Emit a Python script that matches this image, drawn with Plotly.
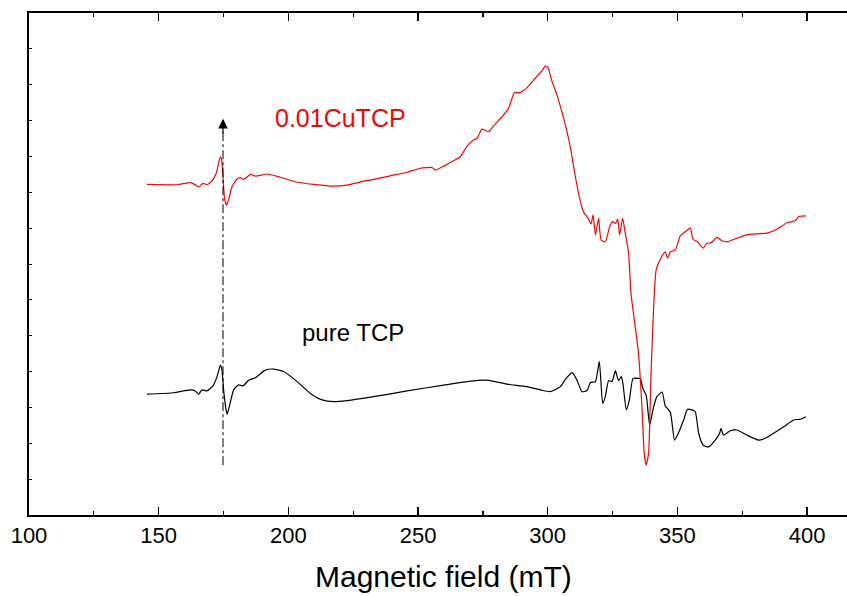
import plotly.graph_objects as go

# ---- data (field in mT, intensity in arbitrary units) ----
red_field = [145.5, 157.1, 162.2, 163.9, 165.4, 167.1, 168.7, 170.6, 172.2, 173.1, 173.8, 174.3,
             174.8, 175.4, 176.2, 177.1, 178.3, 180.2, 181.5, 182.8, 185.4, 187.3, 191.8, 196.9,
             203.4, 209.8, 216.9, 222.6, 227.8, 232.9, 239.3, 245.8, 250.9, 255.4, 256.7, 259.9,
             263.7, 266.3, 268.9, 271.4, 272.7, 274.7, 277.2, 279.1, 282.4, 284.9, 287.2, 289.4,
             292.0, 295.2, 297.8, 299.1, 300.1, 301.7, 303.6, 304.9, 306.8, 308.7, 310.0, 311.9,
             313.8, 315.8, 316.7, 317.5, 318.4, 319.6, 320.6, 322.2, 323.9, 325.0, 326.1, 327.0,
             327.7, 328.9, 329.9, 331.2, 332.1, 333.4, 335.0, 336.4, 337.2, 338.0, 338.9, 339.8,
             340.8, 341.8, 343.4, 345.3, 346.2, 347.3, 349.2, 351.1, 353.0, 355.0, 356.0, 357.8,
             359.9, 361.4, 363.0, 365.3, 367.2, 369.1, 373.0, 376.8, 380.7, 384.5, 388.4, 392.3,
             395.5, 396.7, 399.6]
red_signal = [9.22, 9.21, 9.27, 9.22, 9.15, 9.25, 9.21, 9.32, 9.53, 9.81, 9.99, 9.90,
              9.43, 8.83, 8.64, 8.83, 9.16, 9.37, 9.41, 9.36, 9.50, 9.45, 9.51, 9.42,
              9.28, 9.22, 9.17, 9.20, 9.29, 9.36, 9.46, 9.56, 9.67, 9.69, 9.62, 9.73,
              9.88, 9.99, 10.29, 10.46, 10.50, 10.76, 10.69, 10.85, 11.11, 11.34, 11.78, 11.78,
              11.92, 12.18, 12.39, 12.52, 12.48, 12.08, 11.71, 11.39, 10.88, 10.27, 9.71, 8.97,
              8.45, 8.25, 8.11, 8.37, 7.81, 8.27, 7.67, 7.62, 8.04, 8.18, 8.13, 8.25,
              7.81, 8.27, 7.86, 7.30, 6.18, 5.44, 4.51, 2.93, 1.72, 1.39, 1.72, 3.86,
              5.72, 6.83, 7.13, 7.34, 7.16, 7.34, 7.39, 7.78, 7.90, 8.00, 7.69, 7.62,
              7.44, 7.58, 7.59, 7.74, 7.65, 7.62, 7.72, 7.81, 7.84, 7.86, 7.97, 8.15,
              8.21, 8.32, 8.34]

black_field = [145.5, 155.8, 162.2, 164.1, 165.4, 166.7, 168.7, 171.0, 172.5, 173.8, 174.4, 175.1,
               176.0, 176.4, 177.4, 178.9, 180.8, 182.5, 184.7, 187.3, 191.1, 194.3, 198.2, 203.4,
               208.5, 213.0, 217.5, 222.6, 232.9, 245.8, 258.6, 268.9, 276.6, 284.3, 292.0, 297.2,
               301.0, 304.9, 306.8, 309.4, 311.3, 313.2, 315.2, 316.4, 318.4, 319.9, 321.2, 322.2,
               323.5, 324.8, 326.1, 327.3, 328.4, 329.0, 330.3, 331.5, 332.9, 335.0, 335.7, 336.7,
               338.0, 339.3, 340.8, 342.1, 344.1, 345.3, 347.3, 348.9, 350.5, 352.4, 353.9, 355.6,
               356.9, 358.2, 359.9, 362.0, 364.6, 366.3, 366.8, 367.8, 370.4, 373.0, 376.8, 381.3,
               383.9, 387.1, 391.0, 394.8, 397.4, 399.6]
black_signal = [3.37, 3.41, 3.49, 3.46, 3.37, 3.49, 3.46, 3.61, 3.86, 4.18, 4.04, 3.44,
                2.93, 2.81, 3.07, 3.49, 3.63, 3.60, 3.76, 3.83, 4.04, 4.07, 4.00, 3.72,
                3.39, 3.21, 3.16, 3.19, 3.30, 3.46, 3.61, 3.72, 3.76, 3.65, 3.58, 3.49,
                3.44, 3.58, 3.78, 3.97, 3.76, 3.44, 3.47, 3.69, 3.72, 4.28, 3.11, 3.30,
                3.75, 3.72, 4.02, 3.75, 3.86, 3.67, 2.93, 3.21, 3.81, 3.81, 3.81, 3.53,
                3.33, 2.51, 3.00, 3.30, 3.43, 3.05, 2.86, 2.09, 2.30, 2.65, 2.95, 2.93,
                2.88, 2.28, 1.95, 1.90, 2.09, 2.28, 2.42, 2.23, 2.35, 2.37, 2.23, 2.09,
                2.14, 2.28, 2.46, 2.65, 2.67, 2.74]

marker_field = 174.8          # dash-dot reference line position (mT)
marker_span = [1.39, 10.7]    # vertical extent of reference line (a.u.)
arrow_tip = 11.05

x_ticks = [100, 150, 200, 250, 300, 350, 400]
x_range = [100, 415.4]
y_range = [0, 14]

fig = go.Figure()
fig.add_trace(go.Scatter(x=black_field, y=black_signal, mode="lines",
                         line=dict(color="black", width=1.2, shape="spline", smoothing=0.5),
                         showlegend=False, hoverinfo="skip"))
fig.add_trace(go.Scatter(x=red_field, y=red_signal, mode="lines",
                         line=dict(color="#ff0000", width=1.2, shape="spline", smoothing=0.5),
                         showlegend=False, hoverinfo="skip"))
fig.add_trace(go.Scatter(x=[marker_field, marker_field], y=marker_span, mode="lines",
                         line=dict(color="black", width=1, dash="dashdot"),
                         showlegend=False, hoverinfo="skip"))

fig.add_annotation(x=marker_field, y=arrow_tip, ax=marker_field, ay=marker_span[1] - 0.1,
                   xref="x", yref="y", axref="x", ayref="y", text="", showarrow=True,
                   arrowhead=2, arrowsize=1.6, arrowwidth=1.2, arrowcolor="black")

fig.add_annotation(x=194.2, y=11.07, xref="x", yref="y", text="0.01CuTCP", showarrow=False,
                   xanchor="left", yanchor="middle",
                   font=dict(family="Arial, Liberation Sans", size=25, color="#ff0000"))
fig.add_annotation(x=204.6, y=5.1, xref="x", yref="y", text="pure TCP", showarrow=False,
                   xanchor="left", yanchor="middle",
                   font=dict(family="Arial, Liberation Sans", size=24, color="black"))

fig.add_annotation(x=0.507, y=-0.1235, xref="paper", yref="paper", text="Magnetic field (mT)",
                   showarrow=False, xanchor="center", yanchor="middle", borderpad=0,
                   font=dict(family="Arial, Liberation Sans", size=30, color="black"))

fig.update_layout(
    width=847, height=596,
    margin=dict(l=29, r=0, t=13, b=81),
    paper_bgcolor="white", plot_bgcolor="white",
    font=dict(family="Arial, Liberation Sans", color="black"),
    xaxis=dict(range=x_range, tickvals=x_ticks, ticks="inside", ticklen=8, tickwidth=1.3,
               tickcolor="black", showline=True, linecolor="black", linewidth=1.6,
               mirror="ticks", showgrid=False, zeroline=False,
               tickfont=dict(size=22, family="Arial, Liberation Sans"),
               minor=dict(dtick=25, tick0=100, ticks="inside", ticklen=4, tickwidth=1.3,
                          tickcolor="black", showgrid=False)),
    yaxis=dict(range=y_range, dtick=1, tick0=0, ticks="inside", ticklen=3, tickwidth=1,
               tickcolor="black", showline=True, linecolor="black", linewidth=1.6,
               showticklabels=False, showgrid=False, zeroline=False),
)

fig.write_html("out.html", config={"displayModeBar": False, "staticPlot": True},
               post_script="document.body.style.margin='0';document.body.style.overflow='hidden';")
